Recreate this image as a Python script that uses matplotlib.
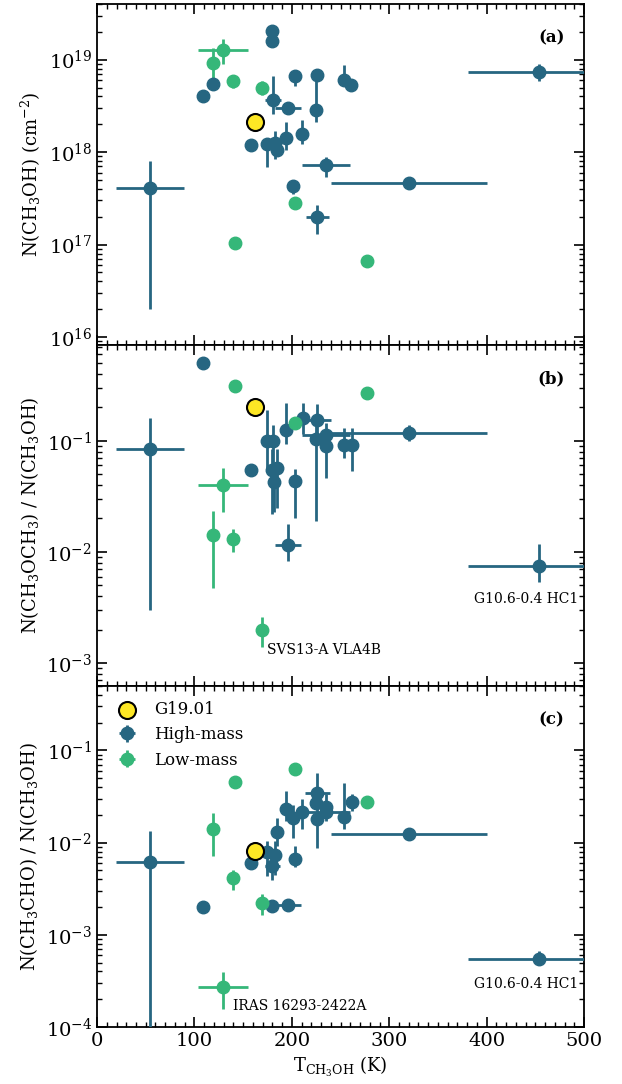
import numpy as np
import matplotlib
matplotlib.use("Agg")
import matplotlib.pyplot as plt

plt.rcParams["font.family"] = ["DejaVu Serif"]
plt.rcParams["mathtext.fontset"] = "dejavuserif"

HIGH_C = "#266681"
LOW_C = "#35b779"
G19_C = "#fde725"

# ---- panel (a): N(CH3OH) ----
a_hm_T = [54, 109, 119.4, 158, 174.2, 179.5, 179.5, 180.7, 182.4, 184.5, 193.7, 195.8,
          201.6, 203.6, 210.8, 224.8, 225.5, 226.2, 235, 253.9, 260.8, 320, 454]
a_hm_Terr = [35, 0, 0, 0, 0, 0, 0, 8, 0, 0, 0, 13.3, 0, 0, 0, 0, 0, 12, 25, 0, 0, 80, 73]
a_hm_N = [4.1e17, 4.0e18, 5.4e18, 1.2e18, 1.22e18, 2.03e19, 1.61e19, 3.67e18, 1.26e18, 1.05e18,
          1.41e18, 3.0e18, 4.3e17, 6.6e18, 1.58e18, 2.82e18, 6.9e18, 2.0e17, 7.2e17, 6.0e18,
          5.3e18, 4.65e17, 7.3e18]
a_hm_lo = [2.0e16, 4.0e18, 5.4e18, 1.2e18, 6.9e17, 2.03e19, 1.61e19, 2.6e18, 8.5e17, 9.0e17,
           1.05e18, 3.0e18, 3.55e17, 5.2e18, 1.23e18, 2.1e18, 6.9e18, 1.3e17, 5.4e17, 5.5e18,
           5.3e18, 4.65e17, 5.9e18]
a_hm_hi = [8.0e17, 4.0e18, 5.4e18, 1.2e18, 1.35e18, 2.03e19, 1.61e19, 6.6e18, 1.7e18, 1.2e18,
           2.1e18, 3.0e18, 5.0e17, 7.5e18, 2.2e18, 6.7e18, 6.9e18, 2.7e17, 8.9e17, 8.7e18,
           5.3e18, 4.65e17, 8.9e18]

a_lm_T = [119.4, 129.7, 139.3, 141.7, 169.4, 203.3, 277]
a_lm_Terr = [0, 25.7, 0, 0, 0, 0, 0]
a_lm_N = [9.3e18, 1.27e19, 5.9e18, 1.03e17, 5.0e18, 2.8e17, 6.7e16]
a_lm_lo = [4.9e18, 8.9e18, 5.0e18, 1.03e17, 4.2e18, 2.8e17, 6.7e16]
a_lm_hi = [1.35e19, 1.66e19, 6.5e18, 1.03e17, 5.9e18, 2.8e17, 6.7e16]

# ---- panel (b): CH3OCH3 / CH3OH ----
b_hm_T = [54, 109, 158, 174.2, 180.3, 180, 185.2, 181.7, 193.7, 195.8, 203.3, 211.2,
          226.2, 224.8, 235, 235, 253.9, 261.5, 320, 454]
b_hm_Terr = [35, 0, 0, 0, 0, 0, 0, 0, 0, 13.5, 0, 0, 14, 0, 25, 0, 0, 0, 80, 73]
b_hm_R = [0.084, 0.50, 0.0546, 0.100, 0.100, 0.055, 0.057, 0.043, 0.126, 0.0116, 0.0436,
          0.160, 0.153, 0.104, 0.113, 0.090, 0.092, 0.092, 0.117, 0.0074]
b_hm_lo = [0.003, 0.50, 0.049, 0.054, 0.05, 0.022, 0.025, 0.023, 0.093, 0.0083, 0.0204,
           0.115, 0.116, 0.019, 0.113, 0.046, 0.07, 0.053, 0.10, 0.0054]
b_hm_hi = [0.16, 0.50, 0.061, 0.19, 0.14, 0.084, 0.085, 0.05, 0.22, 0.0178, 0.056,
           0.22, 0.215, 0.162, 0.113, 0.146, 0.13, 0.13, 0.14, 0.0118]

b_lm_T = [119.4, 129.4, 139.3, 141.7, 169.4, 203.6, 277]
b_lm_Terr = [0, 25.7, 0, 0, 0, 0, 0]
b_lm_R = [0.0142, 0.040, 0.013, 0.31, 0.0020, 0.146, 0.27]
b_lm_lo = [0.0047, 0.0227, 0.010, 0.31, 0.0014, 0.146, 0.27]
b_lm_hi = [0.0234, 0.057, 0.016, 0.31, 0.0026, 0.146, 0.27]

# ---- panel (c): CH3CHO / CH3OH ----
c_hm_T = [54, 109, 158, 174.2, 182.4, 180, 184.5, 179.7, 193.7, 195.8, 201.6, 203.3,
          210.8, 224.8, 225.5, 226.2, 235, 235, 253.9, 261.5, 320, 454]
c_hm_Terr = [35, 0, 0, 0, 0, 7.5, 0, 0, 0, 13.5, 0, 0, 0, 0, 0, 12.8, 25, 0, 0, 0, 80, 73]
c_hm_R = [0.0062, 0.0020, 0.0060, 0.0080, 0.0073, 0.0056, 0.0131, 0.00204, 0.0234, 0.0021,
          0.0186, 0.0067, 0.0216, 0.0266, 0.0182, 0.0346, 0.0215, 0.0245, 0.019, 0.0277,
          0.0123, 0.00054]
c_hm_lo = [5e-5, 0.0020, 0.0055, 0.0043, 0.0045, 0.0039, 0.0093, 0.00204, 0.017, 0.0021,
           0.0111, 0.0054, 0.0141, 0.0266, 0.0087, 0.028, 0.0215, 0.017, 0.014, 0.022,
           0.0123, 0.00047]
c_hm_hi = [0.0135, 0.0020, 0.0067, 0.0105, 0.0105, 0.0073, 0.0186, 0.00204, 0.036, 0.0021,
           0.0257, 0.0093, 0.0295, 0.0266, 0.030, 0.0575, 0.0215, 0.034, 0.044, 0.034,
           0.0123, 0.00066]

c_lm_T = [119.4, 129.4, 139.3, 141.7, 169.4, 203.3, 277]
c_lm_Terr = [0, 25.7, 0, 0, 0, 0, 0]
c_lm_R = [0.0141, 0.00027, 0.0041, 0.045, 0.0022, 0.063, 0.0277]
c_lm_lo = [0.0071, 0.000155, 0.0031, 0.045, 0.00166, 0.063, 0.0277]
c_lm_hi = [0.021, 0.00039, 0.005, 0.045, 0.00275, 0.063, 0.0277]

# ---- G19.01 ----
g19_T = 162.5
g19_vals = [2.1e18, 0.20, 0.0081]


def yerr(val, lo, hi):
    val = np.asarray(val)
    return [val - np.asarray(lo), np.asarray(hi) - val]


fig, axes = plt.subplots(3, 1, figsize=(6.22, 10.84), dpi=100, sharex=True)
fig.subplots_adjust(left=0.156, right=0.939, top=0.9963, bottom=0.0526, hspace=0)

panels = [
    (a_hm_T, a_hm_Terr, a_hm_N, a_hm_lo, a_hm_hi, a_lm_T, a_lm_Terr, a_lm_N, a_lm_lo, a_lm_hi),
    (b_hm_T, b_hm_Terr, b_hm_R, b_hm_lo, b_hm_hi, b_lm_T, b_lm_Terr, b_lm_R, b_lm_lo, b_lm_hi),
    (c_hm_T, c_hm_Terr, c_hm_R, c_hm_lo, c_hm_hi, c_lm_T, c_lm_Terr, c_lm_R, c_lm_lo, c_lm_hi),
]
ylabels = [r"N(CH$_3$OH) (cm$^{-2}$)",
           r"N(CH$_3$OCH$_3$) / N(CH$_3$OH)",
           r"N(CH$_3$CHO) / N(CH$_3$OH)"]
ylims = [(8.2e15, 4.0e19), (6.2e-4, 0.73), (1e-4, 0.5)]
tags = ["(a)", "(b)", "(c)"]

for i, ax in enumerate(axes):
    hT, hTe, hv, hlo, hhi, lT, lTe, lv, llo, lhi = panels[i]
    g = ax.scatter(g19_T, g19_vals[i], s=150, color=G19_C, edgecolor="black",
                   linewidth=1.5, zorder=5, label="G19.01")
    h = ax.errorbar(hT, hv, xerr=hTe, yerr=yerr(hv, hlo, hhi), fmt="o", color=HIGH_C,
                    ms=9, elinewidth=2, capsize=0, zorder=3, label="High-mass")
    l = ax.errorbar(lT, lv, xerr=lTe, yerr=yerr(lv, llo, lhi), fmt="o", color=LOW_C,
                    ms=9, elinewidth=2, capsize=0, zorder=3, label="Low-mass")
    ax.set_yscale("log")
    ax.set_ylim(*ylims[i])
    ax.set_xlim(0, 500)
    ax.set_ylabel(ylabels[i], fontsize=13)
    ax.xaxis.set_major_locator(matplotlib.ticker.MultipleLocator(100))
    ax.xaxis.set_minor_locator(matplotlib.ticker.MultipleLocator(10))
    ax.tick_params(which="both", direction="in", top=True, right=True, labelsize=14)
    ax.tick_params(which="major", length=7, width=1.2)
    ax.tick_params(which="minor", length=3.5, width=1)
    for sp in ax.spines.values():
        sp.set_linewidth(1.3)
    ax.text(0.96, 0.9, tags[i], transform=ax.transAxes, ha="right", va="center",
            fontsize=12, fontweight="bold")

axes[2].legend(handles=[g, h, l], loc="upper left", frameon=False, fontsize=12,
               handletextpad=0.7, handlelength=1.8, borderaxespad=0.5)
axes[2].set_xlabel(r"T$_{\rm CH_3OH}$ (K)", fontsize=13)

axes[1].text(175, 1.3e-3, "SVS13-A VLA4B", fontsize=10, ha="left", va="center")
axes[1].text(494, 3.8e-3, "G10.6-0.4 HC1", fontsize=10, ha="right", va="center")
axes[2].text(494, 2.93e-4, "G10.6-0.4 HC1", fontsize=10, ha="right", va="center")
axes[2].text(140, 1.7e-4, "IRAS 16293-2422A", fontsize=10, ha="left", va="center")

fig.savefig("out.png", dpi=100)
plt.close(fig)
